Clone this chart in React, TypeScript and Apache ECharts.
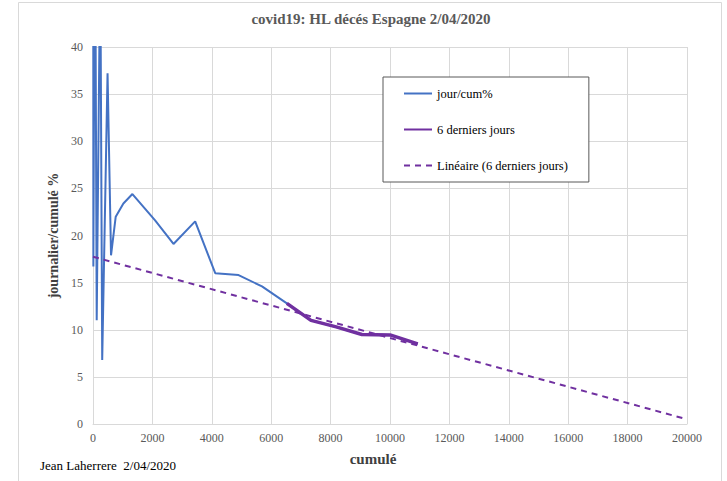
import React, { useEffect, useRef } from "react";
import * as echarts from "echarts";

// jour/cum% (blue) — cumulated deaths vs daily/cumulated %
const cumulAll = [3, 12, 65, 125, 245, 310, 490, 607, 765, 1023, 1327, 2091, 2710, 3440, 4115, 4901, 5690, 6528, 7340, 8189, 9053, 10003, 10935];
const pctAll = [100, 16.7, 60, 11.0, 50, 6.8, 37.2, 17.9, 22.0, 23.4, 24.4, 21.6, 19.1, 21.5, 16.0, 15.8, 14.6, 12.8, 11.0, 10.3, 9.5, 9.45, 8.5];

// 6 derniers jours (purple)
const cumulLast6 = [6528, 7340, 8189, 9053, 10003, 10935];
const pctLast6 = [12.8, 11.0, 10.3, 9.5, 9.45, 8.5];

// Linéaire (6 derniers jours) trend endpoints
const trendX = [0, 20000];
const trendY = [17.75, 0.5];

const seriesNames = ["jour/cum%", "6 derniers jours", "Linéaire (6 derniers jours)"];
const titleText = "covid19: HL décés Espagne 2/04/2020";
const xName = "cumulé";
const yName = "journalier/cumulé %";
const footer = "Jean Laherrere  2/04/2020";

const FONT = "Liberation Serif";

export default function App() {
  const ref = useRef<HTMLDivElement>(null);
  useEffect(() => {
    if (!ref.current) return;
    const chart = echarts.init(ref.current, null, { renderer: "svg" });
    const zip = (xs: number[], ys: number[]) => xs.map((x, i) => [x, ys[i]]);
    chart.setOption({
      animation: false,
      backgroundColor: "#ffffff",
      title: {
        text: titleText,
        left: 371,
        textAlign: "center",
        top: 11,
        padding: 0,
        textStyle: { fontFamily: FONT, fontSize: 15, fontWeight: "bold", color: "#595959" },
      },
      grid: { left: 93, right: 40, top: 47, bottom: 57, containLabel: false },
      legend: {
        orient: "vertical",
        left: 383,
        top: 77,
        padding: [10, 21, 10, 20],
        itemGap: 23,
        itemWidth: 28,
        itemHeight: 14,
        borderColor: "#595959",
        borderWidth: 1,
        backgroundColor: "#ffffff",
        itemStyle: { opacity: 0 },
        textStyle: { fontFamily: FONT, fontSize: 12.5, color: "#000000" },
        data: seriesNames,
      },
      xAxis: {
        type: "value",
        min: 0,
        max: 20000,
        interval: 2000,
        name: xName,
        nameLocation: "middle",
        nameGap: 27,
        nameTextStyle: { fontFamily: FONT, fontSize: 15, fontWeight: "bold", color: "#404040", padding: [0, 34, 0, 0] },
        axisLine: { show: true, lineStyle: { color: "#d9d9d9" } },
        axisTick: { show: false },
        axisLabel: { fontFamily: FONT, fontSize: 12, color: "#595959", margin: 8, formatter: (v: number) => String(v) },
        splitLine: { show: true, lineStyle: { color: "#d9d9d9" } },
      },
      yAxis: {
        type: "value",
        min: 0,
        max: 40,
        interval: 5,
        name: yName,
        nameLocation: "middle",
        nameGap: 23,
        nameTextStyle: { fontFamily: FONT, fontSize: 14, fontWeight: "bold", color: "#404040" },
        axisLine: { show: true, lineStyle: { color: "#d9d9d9" } },
        axisTick: { show: false },
        axisLabel: { fontFamily: FONT, fontSize: 12, color: "#595959", margin: 10, formatter: (v: number) => String(v) },
        splitLine: { show: true, lineStyle: { color: "#d9d9d9" } },
      },
      series: [
        {
          name: seriesNames[0],
          type: "line",
          data: zip(cumulAll, pctAll),
          showSymbol: false,
          symbol: "none",
          clip: true,
          lineStyle: { color: "#4472C4", width: 2 },
          itemStyle: { color: "#4472C4" },
        },
        {
          name: seriesNames[1],
          type: "line",
          data: zip(cumulLast6, pctLast6),
          showSymbol: false,
          symbol: "none",
          lineStyle: { color: "#7030A0", width: 3.5 },
          itemStyle: { color: "#7030A0" },
        },
        {
          name: seriesNames[2],
          type: "line",
          data: zip(trendX, trendY),
          showSymbol: false,
          symbol: "none",
          lineStyle: { color: "#7030A0", width: 2, type: [6, 5] },
          itemStyle: { color: "#7030A0" },
        },
      ],
      graphic: [
        {
          type: "rect",
          silent: true,
          z: -10,
          shape: { x: 18.5, y: 2.5, width: 703, height: 500 },
          style: { fill: "none", stroke: "#d9d9d9", lineWidth: 1 },
        },
        {
          type: "text",
          left: 40,
          top: 459,
          style: { text: footer, fontFamily: FONT, fontSize: 13, fill: "#000000" },
        },
      ],
    });
    return () => chart.dispose();
  }, []);
  return (
    <div
      ref={ref}
      style={{ position: "fixed", left: 0, top: 0, width: 727, height: 481 }}
    />
  );
}
